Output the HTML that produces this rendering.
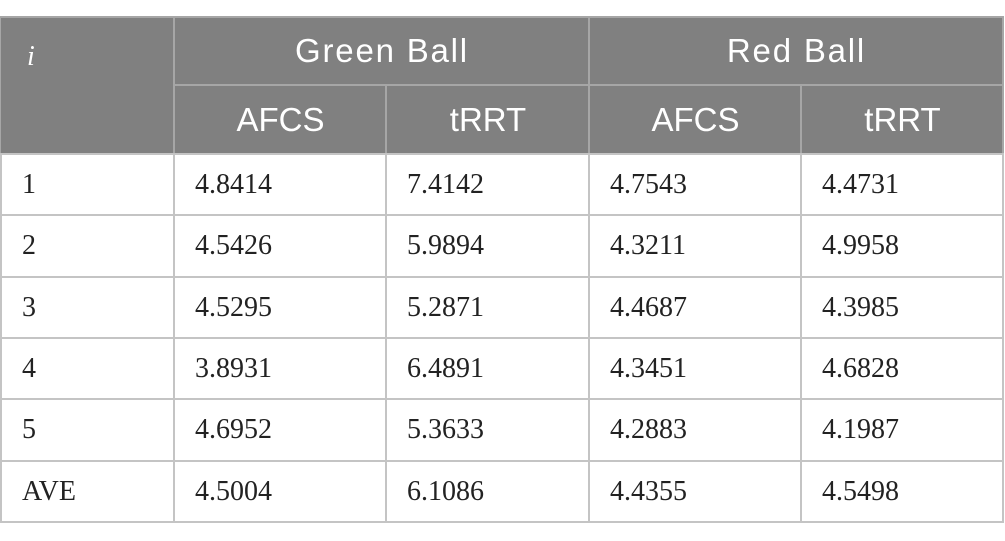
<!DOCTYPE html>
<html>
<head>
<meta charset="utf-8">
<style>
  html, body { margin: 0; padding: 0; background: #ffffff; }
  body { width: 1005px; height: 541px; position: relative; overflow: hidden; }
  .hdr { position: absolute; left: 0; top: 17px; width: 1004px; height: 137px; background: #808080; }
  .hl { position: absolute; height: 2px; background: #c4c4c4; }
  .vl { position: absolute; width: 2px; background: #c4c4c4; }
  .hhl { position: absolute; height: 2px; background: #a6a6a6; }
  .hvl { position: absolute; width: 2px; background: #a6a6a6; }
  .ht { position: absolute; display: flex; align-items: center; justify-content: center;
        font-family: "Liberation Sans", sans-serif; font-size: 33px; color: #ffffff; }
  .dt { position: absolute; display: flex; align-items: center;
        font-family: "Liberation Serif", serif; font-size: 28px; color: #222222; }
</style>
</head>
<body>
  <div class="hdr"></div>

  <!-- header inner lines -->
  <div class="hhl" style="left:175px; top:84px; width:829px;"></div>
  <div class="hvl" style="left:173px; top:17px; height:137px;"></div>
  <div class="hvl" style="left:588px; top:17px; height:137px;"></div>
  <div class="hvl" style="left:385px; top:85px; height:69px;"></div>
  <div class="hvl" style="left:800px; top:85px; height:69px;"></div>
  <div class="hhl" style="left:0px; top:16px; width:1004px;"></div>
  <div class="hhl" style="left:0px; top:17px; width:1px; height:137px;"></div>
  <div class="hvl" style="left:1002px; top:17px; height:137px;"></div>

  <!-- header text -->
  <div style="position:absolute; left:27px; top:43px; font-family:'Liberation Serif', serif; font-style:italic; font-size:28px; line-height:28px; color:#ffffff;">i</div>
  <div class="ht" style="left:175px; top:17px; width:414px; height:68px; letter-spacing:1.8px;">Green Ball</div>
  <div class="ht" style="left:590px; top:17px; width:413px; height:68px; letter-spacing:1.8px;">Red Ball</div>
  <div class="ht" style="left:175px; top:86px; width:211px; height:67px;">AFCS</div>
  <div class="ht" style="left:387px; top:86px; width:202px; height:67px;">tRRT</div>
  <div class="ht" style="left:590px; top:86px; width:211px; height:67px;">AFCS</div>
  <div class="ht" style="left:802px; top:86px; width:201px; height:67px;">tRRT</div>

  <!-- body lines -->
  <div class="hl" style="left:0; top:153px; width:1004px;"></div>
  <div class="hl" style="left:0; top:214px; width:1004px;"></div>
  <div class="hl" style="left:0; top:276px; width:1004px;"></div>
  <div class="hl" style="left:0; top:337px; width:1004px;"></div>
  <div class="hl" style="left:0; top:398px; width:1004px;"></div>
  <div class="hl" style="left:0; top:460px; width:1004px;"></div>
  <div class="hl" style="left:0; top:521px; width:1004px;"></div>
  <div class="vl" style="left:0; top:154px; height:369px;"></div>
  <div class="vl" style="left:173px; top:154px; height:369px;"></div>
  <div class="vl" style="left:385px; top:154px; height:369px;"></div>
  <div class="vl" style="left:588px; top:154px; height:369px;"></div>
  <div class="vl" style="left:800px; top:154px; height:369px;"></div>
  <div class="vl" style="left:1002px; top:154px; height:369px;"></div>

  <!-- row 1 -->
  <div class="dt" style="left:22px; top:155px; height:59px;">1</div>
  <div class="dt" style="left:195px; top:155px; height:59px;">4.8414</div>
  <div class="dt" style="left:407px; top:155px; height:59px;">7.4142</div>
  <div class="dt" style="left:610px; top:155px; height:59px;">4.7543</div>
  <div class="dt" style="left:822px; top:155px; height:59px;">4.4731</div>
  <!-- row 2 -->
  <div class="dt" style="left:22px; top:216px; height:60px;">2</div>
  <div class="dt" style="left:195px; top:216px; height:60px;">4.5426</div>
  <div class="dt" style="left:407px; top:216px; height:60px;">5.9894</div>
  <div class="dt" style="left:610px; top:216px; height:60px;">4.3211</div>
  <div class="dt" style="left:822px; top:216px; height:60px;">4.9958</div>
  <!-- row 3 -->
  <div class="dt" style="left:22px; top:278px; height:59px;">3</div>
  <div class="dt" style="left:195px; top:278px; height:59px;">4.5295</div>
  <div class="dt" style="left:407px; top:278px; height:59px;">5.2871</div>
  <div class="dt" style="left:610px; top:278px; height:59px;">4.4687</div>
  <div class="dt" style="left:822px; top:278px; height:59px;">4.3985</div>
  <!-- row 4 -->
  <div class="dt" style="left:22px; top:339px; height:59px;">4</div>
  <div class="dt" style="left:195px; top:339px; height:59px;">3.8931</div>
  <div class="dt" style="left:407px; top:339px; height:59px;">6.4891</div>
  <div class="dt" style="left:610px; top:339px; height:59px;">4.3451</div>
  <div class="dt" style="left:822px; top:339px; height:59px;">4.6828</div>
  <!-- row 5 -->
  <div class="dt" style="left:22px; top:400px; height:60px;">5</div>
  <div class="dt" style="left:195px; top:400px; height:60px;">4.6952</div>
  <div class="dt" style="left:407px; top:400px; height:60px;">5.3633</div>
  <div class="dt" style="left:610px; top:400px; height:60px;">4.2883</div>
  <div class="dt" style="left:822px; top:400px; height:60px;">4.1987</div>
  <!-- row AVE -->
  <div class="dt" style="left:22px; top:462px; height:59px;">AVE</div>
  <div class="dt" style="left:195px; top:462px; height:59px;">4.5004</div>
  <div class="dt" style="left:407px; top:462px; height:59px;">6.1086</div>
  <div class="dt" style="left:610px; top:462px; height:59px;">4.4355</div>
  <div class="dt" style="left:822px; top:462px; height:59px;">4.5498</div>
</body>
</html>
